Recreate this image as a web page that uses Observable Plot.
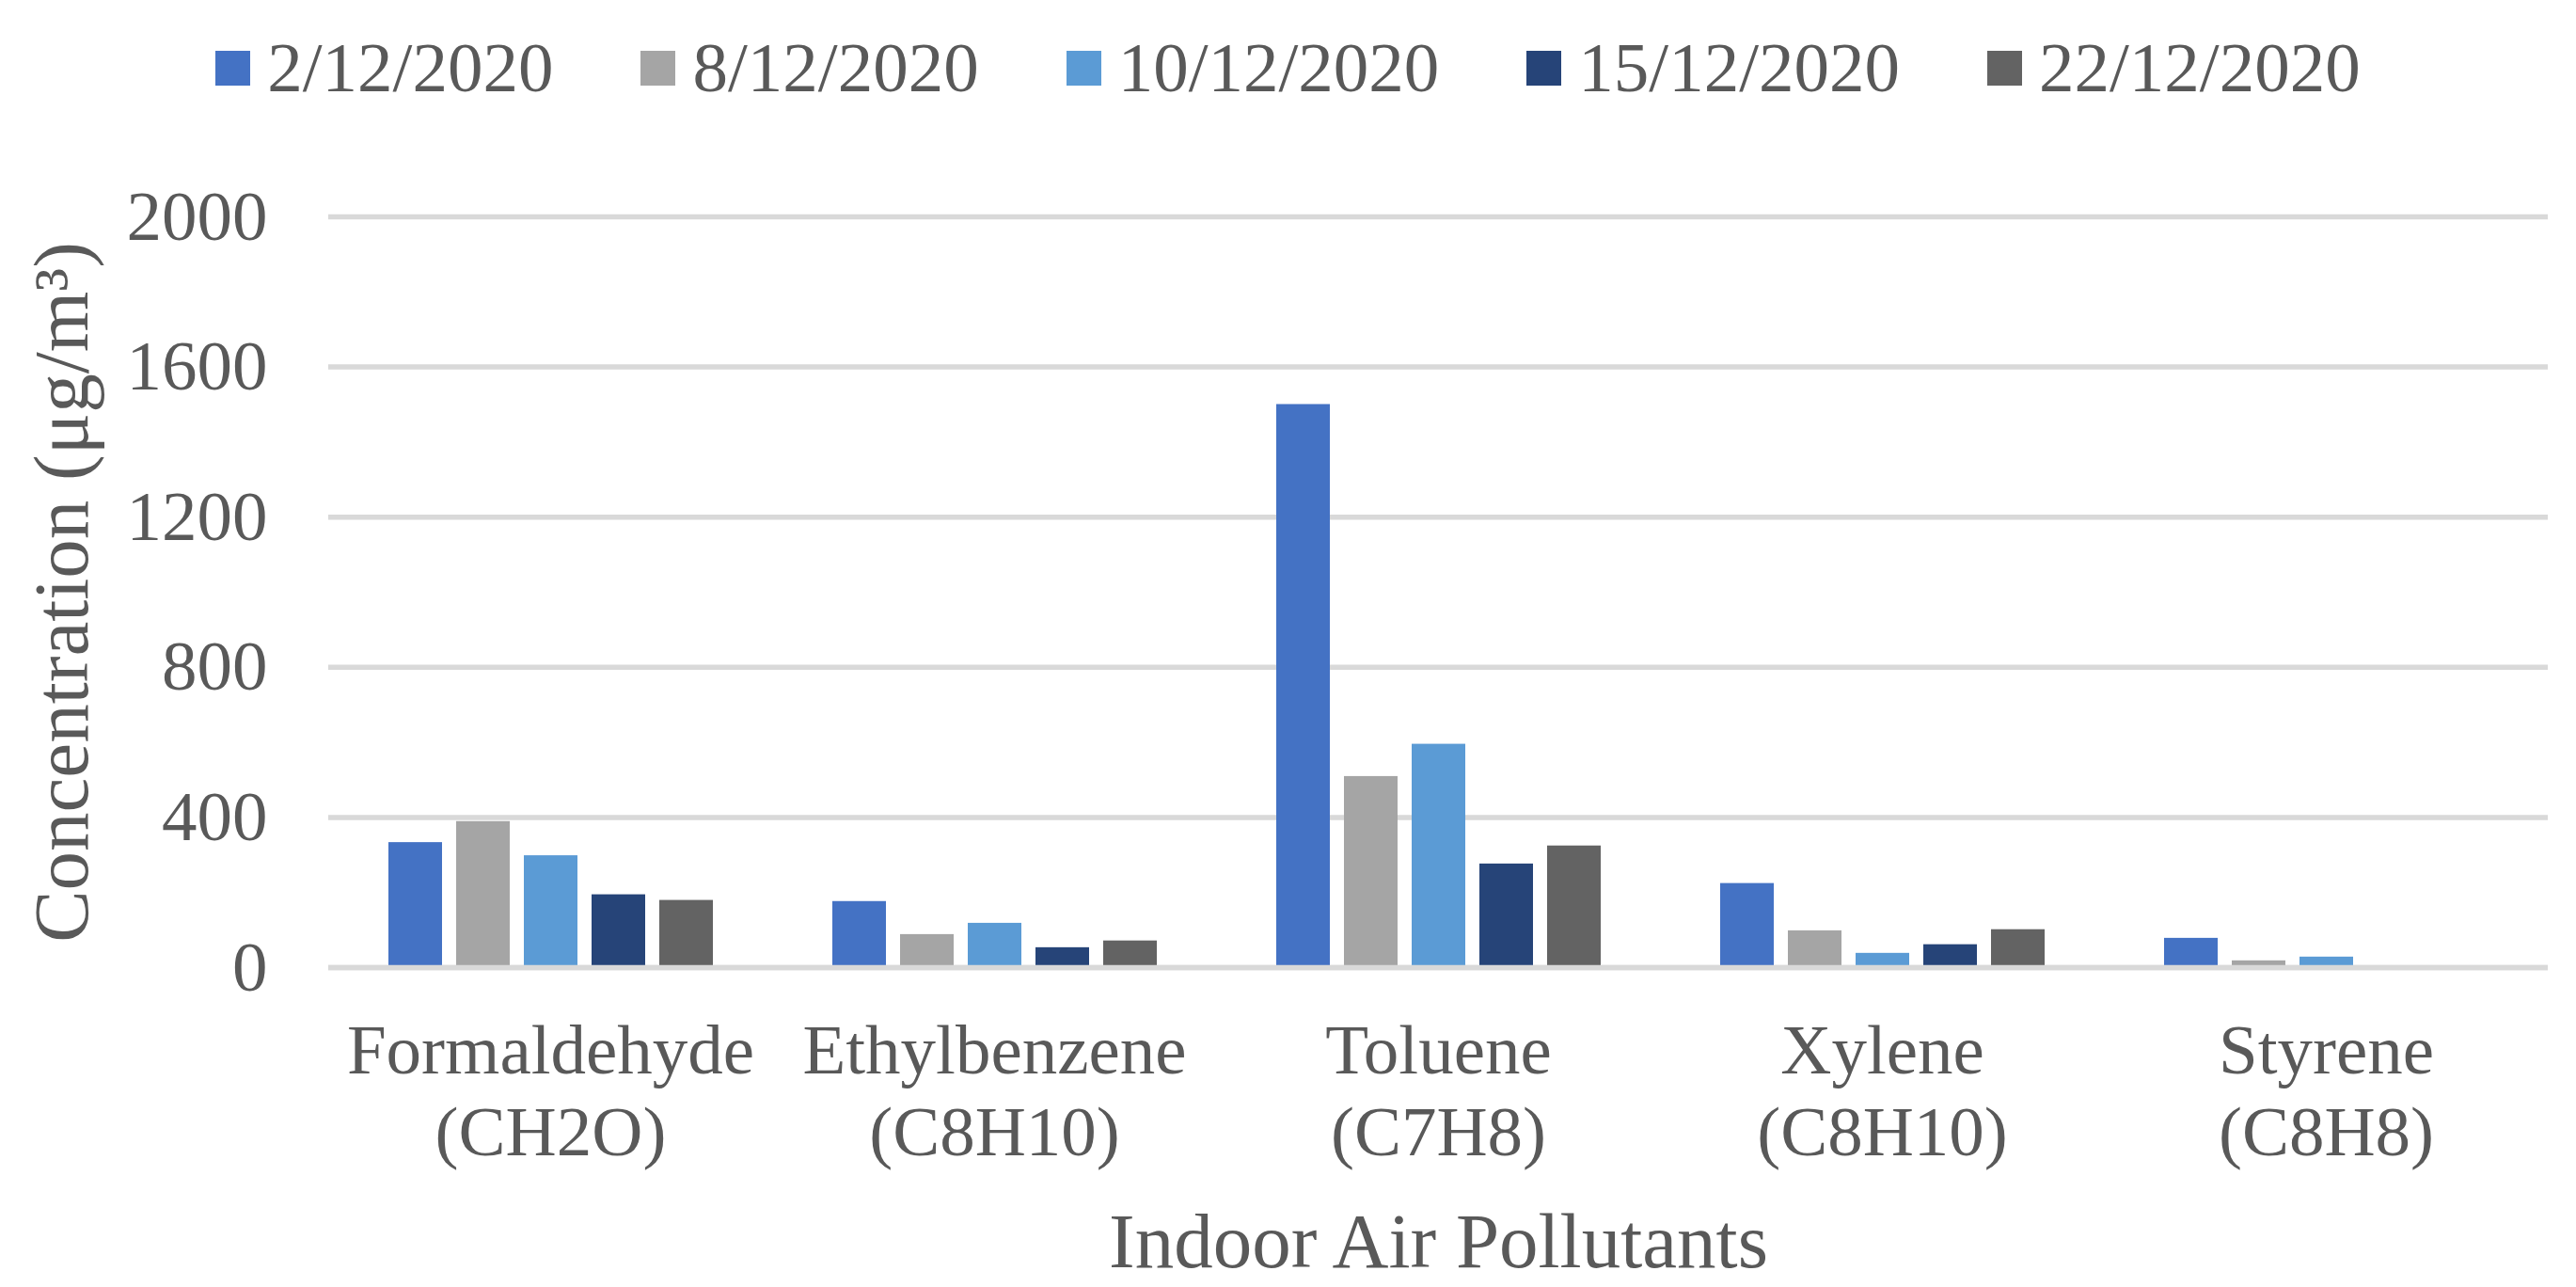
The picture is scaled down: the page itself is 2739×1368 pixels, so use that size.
<!DOCTYPE html>
<html>
<head>
<meta charset="utf-8">
<script src="https://cdn.jsdelivr.net/npm/d3@7"></script>
<script src="https://cdn.jsdelivr.net/npm/@observablehq/plot@0.6"></script>
<style>
  html, body { margin: 0; padding: 0; background: #ffffff; }
  #legend {
    height: 130px; box-sizing: border-box; padding-top: 29px;
    display: flex; justify-content: center; align-items: flex-start;
    font-family: "Liberation Serif", "Times New Roman", serif; font-size: 75px;
    color: #595959; line-height: normal; width: 2739px;
  }
  #legend .item { display: flex; align-items: center; margin: 0 46.5px; white-space: nowrap; }
  #legend .sw { width: 37px; height: 37px; margin-right: 18px; }
  #chart svg { display: block; }
</style>
</head>
<body>
<div id="legend"></div>
<div id="chart"></div>
<script>
// ---- data ----
const categories = ["Formaldehyde", "Ethylbenzene", "Toluene", "Xylene", "Styrene"];
const formulas = ["(CH2O)", "(C8H10)", "(C7H8)", "(C8H10)", "(C8H8)"];
const dates = ["2/12/2020", "8/12/2020", "10/12/2020", "15/12/2020", "22/12/2020"];
const s_2_12 = [333, 176, 1500, 224, 78];
const s_8_12 = [389, 88, 509, 98, 18];
const s_10_12 = [298, 118, 595, 38, 28];
const s_15_12 = [194, 53, 276, 61, 0];
const s_22_12 = [179, 71, 324, 101, 0];
const yTicks = [0, 400, 800, 1200, 1600, 2000];
const colors = ["#4472C4", "#A5A5A5", "#5B9BD5", "#264478", "#636363"];

const series = [s_2_12, s_8_12, s_10_12, s_15_12, s_22_12];
const data = categories.flatMap((c, i) =>
  dates.map((d, j) => ({category: c, date: d, value: series[j][i]}))
);

// ---- legend ----
const legend = document.getElementById("legend");
dates.forEach((d, j) => {
  const item = document.createElement("span");
  item.className = "item";
  const sw = document.createElement("span");
  sw.className = "sw";
  sw.style.background = colors[j];
  const t = document.createElement("span");
  t.textContent = d;
  item.appendChild(sw);
  item.appendChild(t);
  legend.appendChild(item);
});

// ---- chart ----
const grid = "#d9d9d9";
const chart = Plot.plot({
  width: 2739,
  height: 1238,
  marginTop: 100,
  marginBottom: 340,
  marginLeft: 349,
  marginRight: 30,
  style: {fontFamily: "'Liberation Serif', 'Times New Roman', serif", color: "#595959", background: "#ffffff", overflow: "visible"},
  fx: {domain: categories, paddingInner: 0, paddingOuter: 0},
  x: {domain: dates, paddingInner: 0.2138, paddingOuter: 0.862, axis: null},
  y: {domain: [0, 2000]},
  color: {domain: dates, range: colors},
  marks: [
    Plot.ruleY(yTicks, {stroke: grid, strokeWidth: 5.5}),
    Plot.barY(data, {fx: "category", x: "date", y: "value", fill: "date"}),
    Plot.ruleY([0], {stroke: grid, strokeWidth: 5.5}),
    Plot.axisY(yTicks, {tickSize: 0, tickPadding: 65, fontSize: 75, label: null, tickFormat: d => String(d)}),
    Plot.axisY([], {label: "Concentration (μg/m³)", labelAnchor: "center", labelArrow: "none", labelOffset: 315, fontSize: 83, tickSize: 0}),
    Plot.axisFx({
      anchor: "bottom", tickSize: 0, tickPadding: 51, fontSize: 75, lineHeight: 1.16, label: null,
      tickFormat: d => d + "\n" + formulas[categories.indexOf(d)]
    }),
    Plot.axisFx([], {anchor: "bottom", label: "Indoor Air Pollutants", labelAnchor: "center", labelArrow: "none", labelOffset: 318, fontSize: 83, tickSize: 0})
  ]
});
document.getElementById("chart").appendChild(chart);
</script>
</body>
</html>
